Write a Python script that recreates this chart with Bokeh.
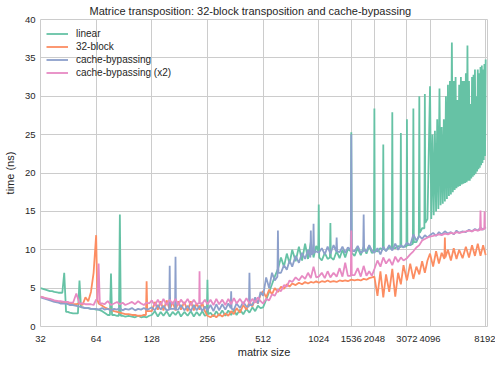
from bokeh.plotting import figure
from bokeh.models import Range1d, FixedTicker, CustomJSTickFormatter, Legend, LegendItem
from bokeh.embed import file_html
from bokeh.resources import INLINE

# ---------------- data ----------------
sizes = [32, 33, 34, 36, 37, 38, 40, 41, 43, 45, 46, 48, 50, 52, 54, 56, 58, 60, 62,
         64, 66, 69, 71, 74, 77, 80, 83, 86, 89, 92, 96, 100, 104, 108, 112, 116, 120, 124,
         128, 133, 138, 143, 148, 154, 160, 166, 172, 178, 184, 192, 200, 208, 216, 224, 232, 240, 248,
         256, 266, 276, 286, 296, 308, 320, 332, 344, 356, 368, 384, 400, 416, 432, 448, 464, 480, 496,
         512, 532, 552, 572, 592, 616, 640, 664, 688, 712, 736, 768, 800, 832, 864, 896, 928, 960, 992,
         1024, 1064, 1104, 1144, 1184, 1232, 1280, 1328, 1376, 1424, 1472, 1536, 1600, 1664, 1728, 1792, 1856, 1920, 1984,
         2048, 2128, 2208, 2288, 2368, 2464, 2560, 2656, 2752, 2848, 2944, 3072, 3200, 3328, 3456, 3584, 3712, 3840, 3968,
         4096, 4256, 4416, 4576, 4736, 4928, 5120, 5312, 5504, 5696, 5888, 6144, 6400, 6656, 6912, 7168, 7424, 7680, 7936, 8192]

# linear: sizes up to 3968, then a finer sweep over 4096..8192
linear_fine_sizes = [4096, 4160, 4224, 4288, 4352, 4416, 4480, 4544, 4608, 4672, 4736, 4800, 4864,
                     4928, 4992, 5056, 5120, 5184, 5248, 5312, 5376, 5440, 5504, 5568, 5632, 5696,
                     5760, 5824, 5888, 5952, 6016, 6080, 6144, 6208, 6272, 6336, 6400, 6464, 6528,
                     6592, 6656, 6720, 6784, 6848, 6912, 6976, 7040, 7104, 7168, 7232, 7296, 7360,
                     7424, 7488, 7552, 7616, 7680, 7744, 7808, 7872, 7936, 8000, 8064, 8128, 8192]

linear = [5.0, 4.9, 4.8, 4.6, 4.6, 4.5, 4.4, 4.4, 7.0, 1.9, 1.8, 1.7, 1.7, 6.0, 2.5, 2.4, 2.4, 2.3, 2.3,
          2.2, 2.2, 2.0, 1.8, 1.5, 6.9, 1.5, 1.4, 14.6, 1.4, 1.3, 1.4, 1.3, 1.2, 1.4, 1.2, 1.3, 1.2, 1.4,
          1.5, 2.0, 1.3, 1.9, 1.4, 2.0, 1.3, 1.9, 1.5, 2.0, 1.3, 1.9, 1.4, 2.0, 1.3, 1.9, 1.4, 2.0, 1.4,
          6.1, 1.8, 1.3, 2.0, 1.4, 2.1, 1.4, 2.1, 1.5, 2.2, 1.5, 2.2, 1.6, 2.3, 1.8, 2.5, 2.0, 2.7, 2.4,
          2.5, 3.5, 4.5, 5.5, 6.5, 7.5, 9.0, 7.8, 9.5, 8.2, 10.0, 8.5, 10.4, 8.6, 10.8, 8.8, 11.0, 9.0, 10.5,
          15.9, 8.6, 9.6, 8.8, 13.5, 8.7, 9.8, 8.9, 10.0, 9.0, 10.1, 25.3, 9.2, 10.2, 9.3, 10.4, 9.5, 10.5, 9.6,
          28.4, 9.8, 10.2, 23.7, 9.9, 10.3, 27.9, 10.2, 10.5, 25.2, 10.4, 27.0, 10.6, 28.4, 11.0, 30.0, 12.8, 30.3, 14.0]
linear_fine = [31.3, 14.0, 25.0, 14.5, 25.5, 15.0, 27.0, 15.3, 31.0, 15.8, 26.0, 16.0, 27.0,
               16.3, 30.0, 16.6, 31.5, 17.0, 32.0, 17.2, 37.0, 17.5, 32.0, 17.8, 32.5, 18.0,
               29.5, 18.2, 31.5, 18.3, 32.5, 18.5, 32.0, 18.6, 32.0, 18.7, 33.0, 18.8, 36.6,
               19.0, 32.0, 19.0, 29.0, 19.3, 32.5, 19.5, 32.8, 19.7, 33.5, 19.9, 30.0, 20.2,
               33.5, 20.5, 33.0, 20.7, 33.8, 21.0, 34.0, 21.3, 33.5, 21.7, 34.2, 22.2, 34.8]
# shoulders that keep the isolated spikes narrow
linear_extra_sizes = [42, 44, 51, 53, 76, 78, 85, 87, 254, 258, 1018, 1030, 1177, 1191, 1527, 1545,
                      2036, 2060, 2275, 2301, 2545, 2575, 2831, 2865, 3054, 3090, 3308, 3348, 3563, 3605, 3817, 3863]
linear_extra = [4.4, 1.9, 1.7, 2.5, 1.5, 1.5, 1.4, 1.4, 1.5, 1.6, 9.8, 9.0, 9.0, 9.0, 9.8, 9.6,
                9.7, 9.9, 10.0, 10.1, 10.1, 10.2, 10.3, 10.4, 10.4, 10.6, 10.8, 11.0, 11.8, 12.2, 12.8, 13.5]

block32 = [3.9, 3.8, 3.7, 3.5, 3.4, 3.3, 3.2, 3.2, 3.1, 3.0, 3.0, 2.9, 2.9, 3.0, 2.8, 3.8, 3.3, 4.5, 7.0,
           11.9, 3.0, 2.7, 2.5, 2.3, 2.2, 2.0, 1.9, 1.8, 1.7, 1.6, 1.6, 1.5, 1.5, 1.4, 1.4, 1.5, 5.9, 2.0,
           2.0, 3.2, 2.2, 3.3, 2.1, 3.4, 2.2, 3.2, 2.1, 3.3, 2.2, 3.2, 2.0, 3.3, 2.1, 3.0, 2.2, 3.1, 2.0,
           1.4, 1.2, 1.5, 1.2, 1.6, 1.3, 1.7, 1.4, 2.0, 1.6, 2.4, 1.8, 2.8, 2.2, 3.2, 2.6, 3.6, 3.0, 4.2,
           4.6, 3.8, 4.8, 4.2, 5.0, 4.5, 5.2, 4.9, 5.5, 5.2, 5.6, 5.4, 5.7, 5.5, 5.8, 5.6, 5.8, 5.7, 5.9,
           5.7, 5.9, 5.8, 6.0, 5.8, 5.9, 5.8, 6.0, 5.9, 6.0, 5.9, 6.1, 6.0, 6.1, 6.0, 6.2, 6.1, 6.3, 6.4,
           6.5, 4.0, 7.2, 3.8, 6.8, 4.5, 7.5, 3.9, 7.0, 5.5, 8.0, 6.0, 8.2, 6.2, 7.8, 6.8, 8.5, 7.0, 8.6,
           9.5, 7.8, 9.8, 8.2, 9.6, 11.6, 10.0, 8.6, 10.2, 8.8, 10.0, 8.9, 10.4, 9.0, 10.6, 9.2, 10.8, 9.2, 10.6, 9.3]
block32_extra_sizes = [65, 119, 121, 4898, 4958]
block32_extra = [3.5, 1.5, 2.0, 8.8, 9.0]

bypass = [3.8, 3.7, 3.6, 3.4, 3.3, 3.2, 3.1, 3.0, 3.0, 2.9, 2.8, 2.8, 2.7, 2.6, 2.5, 2.4, 2.4, 2.3, 2.3,
          2.3, 2.2, 2.4, 2.2, 2.3, 2.1, 2.3, 2.2, 2.4, 2.1, 2.3, 2.2, 2.4, 2.1, 2.3, 2.2, 2.4, 2.2, 2.3,
          2.5, 2.1, 2.8, 2.2, 2.7, 2.1, 7.9, 2.3, 9.1, 2.2, 2.8, 2.1, 2.7, 2.0, 2.8, 2.1, 2.7, 2.0, 2.6,
          2.1, 2.8, 2.0, 2.9, 2.1, 2.9, 2.2, 3.0, 4.6, 2.2, 3.0, 2.4, 3.2, 2.6, 7.0, 2.8, 3.8, 3.0, 4.5,
          4.0, 6.4, 5.0, 7.0, 6.0, 12.5, 7.0, 8.0, 7.4, 8.6, 7.8, 9.2, 8.3, 9.6, 8.8, 10.0, 12.5, 13.4, 9.8,
          9.6, 10.2, 9.4, 10.4, 9.5, 10.6, 11.6, 9.7, 10.4, 9.6, 10.3, 25.0, 9.8, 10.5, 9.6, 14.6, 9.8, 10.6, 9.9,
          9.6, 10.2, 9.4, 10.4, 9.8, 10.6, 9.9, 10.8, 10.0, 10.6, 10.3, 10.9, 10.6, 12.0, 11.2, 11.8, 11.4, 11.9, 11.6,
          11.9, 12.2, 11.8, 12.3, 12.0, 12.4, 12.1, 12.3, 12.0, 12.5, 12.2, 12.4, 12.3, 12.6, 12.4, 12.7, 12.5, 12.9, 12.6, 13.0]
bypass_extra_sizes = [159, 161, 171, 173, 342, 346, 429, 435, 612, 620, 922, 934, 954, 966,
                      1272, 1288, 1527, 1545, 1781, 1803]
bypass_extra = [2.2, 2.3, 2.3, 2.2, 2.4, 2.3, 2.6, 2.8, 6.5, 7.0, 9.0, 9.4, 9.5, 9.6,
                9.8, 9.8, 10.0, 9.9, 9.8, 9.9]

bypass_x2 = [3.9, 3.8, 3.7, 3.6, 3.5, 3.4, 3.3, 3.3, 3.2, 3.2, 3.1, 3.1, 4.3, 3.0, 3.0, 2.9, 2.9, 2.9, 2.8,
             3.5, 8.2, 3.0, 2.9, 3.3, 2.8, 3.0, 3.2, 2.9, 3.1, 2.8, 3.0, 3.2, 2.9, 3.3, 3.0, 2.8, 3.1, 3.0,
             3.4, 2.7, 3.5, 2.8, 3.6, 2.8, 3.5, 2.9, 3.6, 2.8, 3.5, 2.9, 3.6, 2.8, 3.5, 2.9, 7.2, 3.0, 3.5,
             2.9, 3.5, 2.8, 3.6, 2.9, 3.5, 2.8, 3.6, 2.9, 3.7, 3.0, 3.6, 2.9, 3.7, 3.0, 3.6, 3.1, 3.8, 3.3,
             3.0, 3.6, 3.4, 4.2, 4.0, 4.8, 4.6, 5.4, 5.2, 6.0, 5.8, 6.4, 6.0, 6.6, 6.2, 7.0, 6.3, 7.8, 6.4,
             6.5, 7.0, 6.3, 7.2, 6.4, 7.0, 6.5, 7.6, 6.5, 8.3, 6.6, 12.5, 6.7, 7.6, 6.5, 7.9, 6.6, 7.2, 6.6,
             7.5, 8.6, 7.8, 9.0, 8.2, 8.8, 8.0, 9.1, 8.4, 9.0, 8.6, 8.9, 9.4, 9.8, 10.3, 10.6, 11.2, 11.4, 11.6,
             11.7, 11.8, 11.9, 12.0, 11.9, 12.1, 12.0, 12.2, 12.1, 12.3, 12.2, 12.3, 12.4, 12.5, 12.4, 12.6, 12.5, 15.1, 12.7, 12.9]
bypass_x2_extra_sizes = [65, 67, 231, 233, 1527, 1545, 7634, 7726, 8050, 8080, 8110]
bypass_x2_extra = [3.5, 3.0, 3.1, 3.0, 6.6, 6.7, 12.6, 12.6, 12.7, 15.0, 12.8]

x_ticks = [32, 64, 128, 256, 512, 1024, 1536, 2048, 3072, 4096, 8192]
y_ticks = [0, 5, 10, 15, 20, 25, 30, 35, 40]
labels = ["linear", "32-block", "cache-bypassing", "cache-bypassing (x2)"]
colors = ["#66c2a5", "#fc8d62", "#8da0cb", "#e78ac3"]


def merged(xs, ys):
    pts = sorted(zip(xs, ys))
    return [a for a, _ in pts], [b for _, b in pts]


series = [
    merged(sizes[:133] + linear_fine_sizes + linear_extra_sizes, linear + linear_fine + linear_extra),
    merged(sizes + block32_extra_sizes, block32 + block32_extra),
    merged(sizes + bypass_extra_sizes, bypass + bypass_extra),
    merged(sizes + bypass_x2_extra_sizes, bypass_x2 + bypass_x2_extra),
]

# ---------------- figure ----------------
FONT = "Liberation Sans"
TXT = "#262626"
GRID = "#cccccc"

p = figure(frame_width=447, frame_height=307, x_axis_type="log",
           x_range=Range1d(32, 8380), y_range=Range1d(0, 40),
           output_backend="svg", toolbar_location=None,
           min_border_left=32, min_border_right=8, min_border_top=11, min_border_bottom=0,
           title="Matrice transposition: 32-block transposition and cache-bypassing")

p.title.text_font = FONT
p.title.text_font_size = "11px"
p.title.text_font_style = "normal"
p.title.text_color = TXT
p.title.align = "left"
p.title.offset = 49
p.title.standoff = 5

p.background_fill_color = "white"
p.border_fill_color = "white"
p.outline_line_color = GRID
p.outline_line_width = 1

renderers = []
for (xs, ys), c in zip(series, colors):
    r = p.line(xs, ys, line_color=c, line_width=1.8)
    renderers.append(r)

legend = Legend(items=[LegendItem(label=l, renderers=[r]) for l, r in zip(labels, renderers)],
                location=(1, 242))
legend.background_fill_alpha = 0
legend.border_line_alpha = 0
legend.label_text_font = FONT
legend.label_text_font_size = "10px"
legend.label_text_color = TXT
legend.glyph_width = 22
legend.glyph_height = 13
legend.label_height = 13
legend.spacing = 0
legend.padding = 5
legend.margin = 0
legend.label_standoff = 8
p.add_layout(legend)

# axes
p.xaxis.ticker = FixedTicker(ticks=x_ticks, minor_ticks=[])
p.xaxis.formatter = CustomJSTickFormatter(code="return Math.round(tick).toString();")
p.yaxis.ticker = FixedTicker(ticks=y_ticks, minor_ticks=[])
for ax in (p.xaxis, p.yaxis):
    ax.axis_line_color = None
    ax.major_tick_line_color = None
    ax.minor_tick_line_color = None
    ax.major_tick_out = 0
    ax.major_tick_in = 0
    ax.minor_tick_out = 0
    ax.minor_tick_in = 0
    ax.major_label_text_font = FONT
    ax.major_label_text_font_size = "9.5px"
    ax.major_label_text_color = TXT
    ax.axis_label_text_font = FONT
    ax.axis_label_text_font_size = "11px"
    ax.axis_label_text_font_style = "normal"
    ax.axis_label_text_color = TXT
p.xaxis.axis_label = "matrix size"
p.yaxis.axis_label = "time (ns)"
p.xaxis.major_label_text_line_height = 0.8
p.xaxis.axis_label_text_line_height = 0.8
p.xaxis.major_label_standoff = 9
p.xaxis.axis_label_standoff = 1
p.yaxis.major_label_standoff = 5
p.yaxis.axis_label_standoff = 6

p.xgrid.grid_line_color = GRID
p.ygrid.grid_line_color = GRID
p.xgrid.ticker = FixedTicker(ticks=x_ticks, minor_ticks=[])
p.ygrid.ticker = FixedTicker(ticks=y_ticks, minor_ticks=[])

open("out.html", "w").write(file_html(p, INLINE))
